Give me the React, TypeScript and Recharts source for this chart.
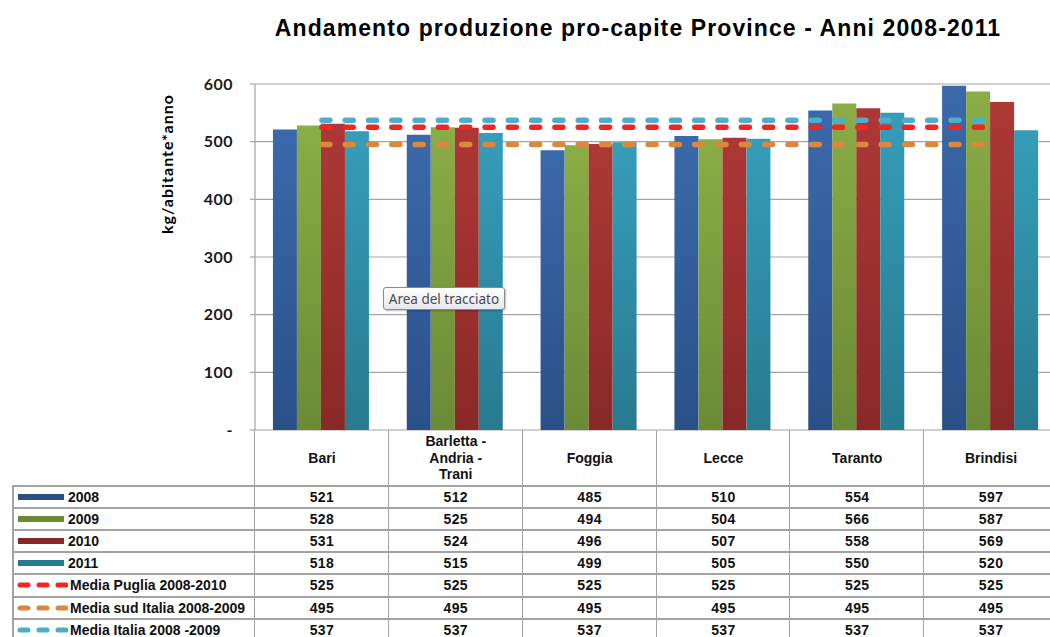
import React from "react";
import { ComposedChart, Bar, Line, XAxis, YAxis, CartesianGrid } from "recharts";

const provinces = ["Bari", "Barletta - Andria - Trani", "Foggia", "Lecce", "Taranto", "Brindisi"];
const headerLines = [["Bari"], ["Barletta -", "Andria -", "Trani"], ["Foggia"], ["Lecce"], ["Taranto"], ["Brindisi"]];
const v2008 = [521, 512, 485, 510, 554, 597];
const v2009 = [528, 525, 494, 504, 566, 587];
const v2010 = [531, 524, 496, 507, 558, 569];
const v2011 = [518, 515, 499, 505, 550, 520];
const mediaPuglia = [525, 525, 525, 525, 525, 525];
const mediaSud = [495, 495, 495, 495, 495, 495];
const mediaItalia = [537, 537, 537, 537, 537, 537];
const yTicks = [0, 100, 200, 300, 400, 500, 600];

const rows = provinces.map((p, i) => ({
  name: p,
  y2008: v2008[i],
  y2009: v2009[i],
  y2010: v2010[i],
  y2011: v2011[i],
  puglia: mediaPuglia[i],
  sud: mediaSud[i],
  italia: mediaItalia[i],
}));

const series = [
  { key: "y2008", label: "2008", values: v2008, top: "#3A69AA", bottom: "#2A5088", kind: "bar" },
  { key: "y2009", label: "2009", values: v2009, top: "#8AAD46", bottom: "#6B8A36", kind: "bar" },
  { key: "y2010", label: "2010", values: v2010, top: "#AD3836", bottom: "#882927", kind: "bar" },
  { key: "y2011", label: "2011", values: v2011, top: "#369DB9", bottom: "#287A8F", kind: "bar" },
  { key: "puglia", label: "Media Puglia 2008-2010", values: mediaPuglia, top: "#EE2626", bottom: "#EE2626", kind: "line" },
  { key: "sud", label: "Media sud Italia 2008-2009", values: mediaSud, top: "#D98840", bottom: "#D98840", kind: "line" },
  { key: "italia", label: "Media Italia 2008 -2009", values: mediaItalia, top: "#4DAECA", bottom: "#4DAECA", kind: "line" },
];

// layout of the plot area / data table
const plotLeft = 255;
const plotRight = 1058;
const plotTop = 84;
const plotBottom = 430;
const bandW = (plotRight - plotLeft) / provinces.length;
const headerH = 56;
const rowH = 22.1;
const tableLeft = 12;
const gridColor = "#a3a3a3";
const font = "'Liberation Sans', Arial, sans-serif";

function LegendKey({ s }: { s: (typeof series)[number] }) {
  if (s.kind === "bar") {
    return (
      <svg width={52} height={10} style={{ display: "block" }}>
        <rect x={4} y={2} width={46} height={6} fill={s.bottom} />
      </svg>
    );
  }
  return (
    <svg width={54} height={10} style={{ display: "block" }}>
      <line x1={6} y1={5} x2={52} y2={5} stroke={s.top} strokeWidth={5} strokeDasharray="8 11" strokeLinecap="round" />
    </svg>
  );
}

function DataTable() {
  const cells: React.ReactNode[] = [];
  headerLines.forEach((lines, i) => {
    cells.push(
      <div
        key={"h" + i}
        style={{
          position: "absolute",
          left: plotLeft + i * bandW,
          top: plotBottom,
          width: bandW,
          height: headerH,
          display: "flex",
          flexDirection: "column",
          alignItems: "center",
          justifyContent: "center",
          fontSize: 14,
          fontWeight: "bold",
          lineHeight: "16.5px",
          color: "#111",
        }}
      >
        {lines.map((l) => (
          <div key={l}>{l}</div>
        ))}
      </div>
    );
  });
  for (let i = 0; i <= provinces.length; i++) {
    cells.push(
      <div
        key={"v" + i}
        style={{
          position: "absolute",
          left: Math.round(plotLeft + i * bandW) - 1,
          top: plotBottom,
          width: 1,
          height: 637 - plotBottom,
          background: gridColor,
        }}
      />
    );
  }
  cells.push(
    <div
      key="vl"
      style={{ position: "absolute", left: tableLeft, top: plotBottom + headerH, width: 2, height: 637, background: gridColor }}
    />
  );
  series.forEach((s, r) => {
    const top = Math.round(plotBottom + headerH + r * rowH);
    cells.push(
      <div
        key={"hl" + r}
        style={{ position: "absolute", left: tableLeft, top: top - 1, width: 1050, height: 2, background: gridColor }}
      />
    );
    cells.push(
      <div
        key={"lab" + r}
        style={{
          position: "absolute",
          left: tableLeft + 2,
          top,
          height: rowH,
          display: "flex",
          alignItems: "center",
          fontSize: 14,
          fontWeight: "bold",
          color: "#111",
          whiteSpace: "nowrap",
        }}
      >
        <LegendKey s={s} />
        <span style={{ marginLeft: 2 }}>{s.label}</span>
      </div>
    );
    s.values.forEach((v, c) => {
      cells.push(
        <div
          key={"c" + r + "-" + c}
          style={{
            position: "absolute",
            left: plotLeft + c * bandW,
            top,
            width: bandW,
            height: rowH,
            display: "flex",
            alignItems: "center",
            justifyContent: "center",
            fontSize: 14,
            fontWeight: "bold",
            letterSpacing: 0.4,
            color: "#111",
          }}
        >
          {v}
        </div>
      );
    });
  });
  return <>{cells}</>;
}

export default function App() {
  return (
    <div
      style={{
        position: "fixed",
        left: 0,
        top: 0,
        width: 1050,
        height: 637,
        overflow: "hidden",
        background: "#fff",
        fontFamily: font,
      }}
    >
      <div
        style={{
          position: "absolute",
          left: 0,
          width: 1276,
          top: 15,
          textAlign: "center",
          fontSize: 23,
          letterSpacing: 1.1,
          fontWeight: "bold",
          color: "#000",
        }}
      >
        Andamento produzione pro-capite Province - Anni 2008-2011
      </div>

      <div
        style={{
          position: "absolute",
          left: 167 - 100,
          top: 164 - 10,
          width: 200,
          height: 20,
          lineHeight: "20px",
          textAlign: "center",
          transform: "rotate(-90deg)",
          fontSize: 16,
          letterSpacing: 1,
          fontWeight: "bold",
          fontFamily: "Lato, " + font,
          color: "#000",
        }}
      >
        kg/abitante*anno
      </div>

      <div style={{ position: "absolute", left: 0, top: 0 }}>
        <ComposedChart
          width={1075}
          height={637}
          data={rows}
          margin={{ top: plotTop, right: 1075 - plotRight, left: 0, bottom: 637 - plotBottom }}
          barCategoryGap="13.4%"
          barGap={0}
        >
          <defs>
            {series
              .filter((s) => s.kind === "bar")
              .map((s) => (
                <linearGradient key={s.key} id={"g" + s.key} x1="0" y1="0" x2="0" y2="1">
                  <stop offset="0%" stopColor={s.top} />
                  <stop offset="100%" stopColor={s.bottom} />
                </linearGradient>
              ))}
          </defs>
          <CartesianGrid vertical={false} stroke={gridColor} strokeWidth={1.2} />
          <XAxis dataKey="name" hide />
          <YAxis
            width={plotLeft}
            domain={[0, 600]}
            ticks={yTicks}
            interval={0}
            tickFormatter={(v: number) => (v === 0 ? "-" : String(v))}
            tick={{ fontSize: 16, fontWeight: "bold", fill: "#1a1a1a", fontFamily: "Lato, " + font, letterSpacing: 0.5 }}
            tickSize={5}
            tickMargin={17}
            axisLine={{ stroke: gridColor, strokeWidth: 1.2 }}
            tickLine={{ stroke: gridColor, strokeWidth: 1.2 }}
          />
          {series
            .filter((s) => s.kind === "bar")
            .map((s) => (
              <Bar key={s.key} dataKey={s.key} name={s.label} fill={`url(#g${s.key})`} isAnimationActive={false} />
            ))}
          {["italia", "sud", "puglia"].map((k) => {
            const s = series.find((x) => x.key === k)!;
            return (
              <Line
                key={k}
                dataKey={k}
                name={s.label}
                stroke={s.top}
                strokeWidth={5.5}
                strokeDasharray="8 15.3"
                strokeLinecap="round"
                dot={false}
                activeDot={false}
                isAnimationActive={false}
              />
            );
          })}
        </ComposedChart>
      </div>

      <DataTable />

      <div
        style={{
          position: "absolute",
          left: 383,
          top: 287,
          width: 122,
          height: 23,
          border: "1px solid #8a8a8a",
          borderRadius: 3,
          background: "linear-gradient(#ffffff, #e6e7ef)",
          boxShadow: "1px 1px 2px rgba(0,0,0,0.25)",
          fontFamily: "'Noto Sans', 'Open Sans', sans-serif",
          fontSize: 13.5,
          color: "#4a4a4a",
          display: "flex",
          alignItems: "center",
          justifyContent: "center",
          boxSizing: "border-box",
          whiteSpace: "nowrap",
        }}
      >
        Area del tracciato
      </div>
    </div>
  );
}
